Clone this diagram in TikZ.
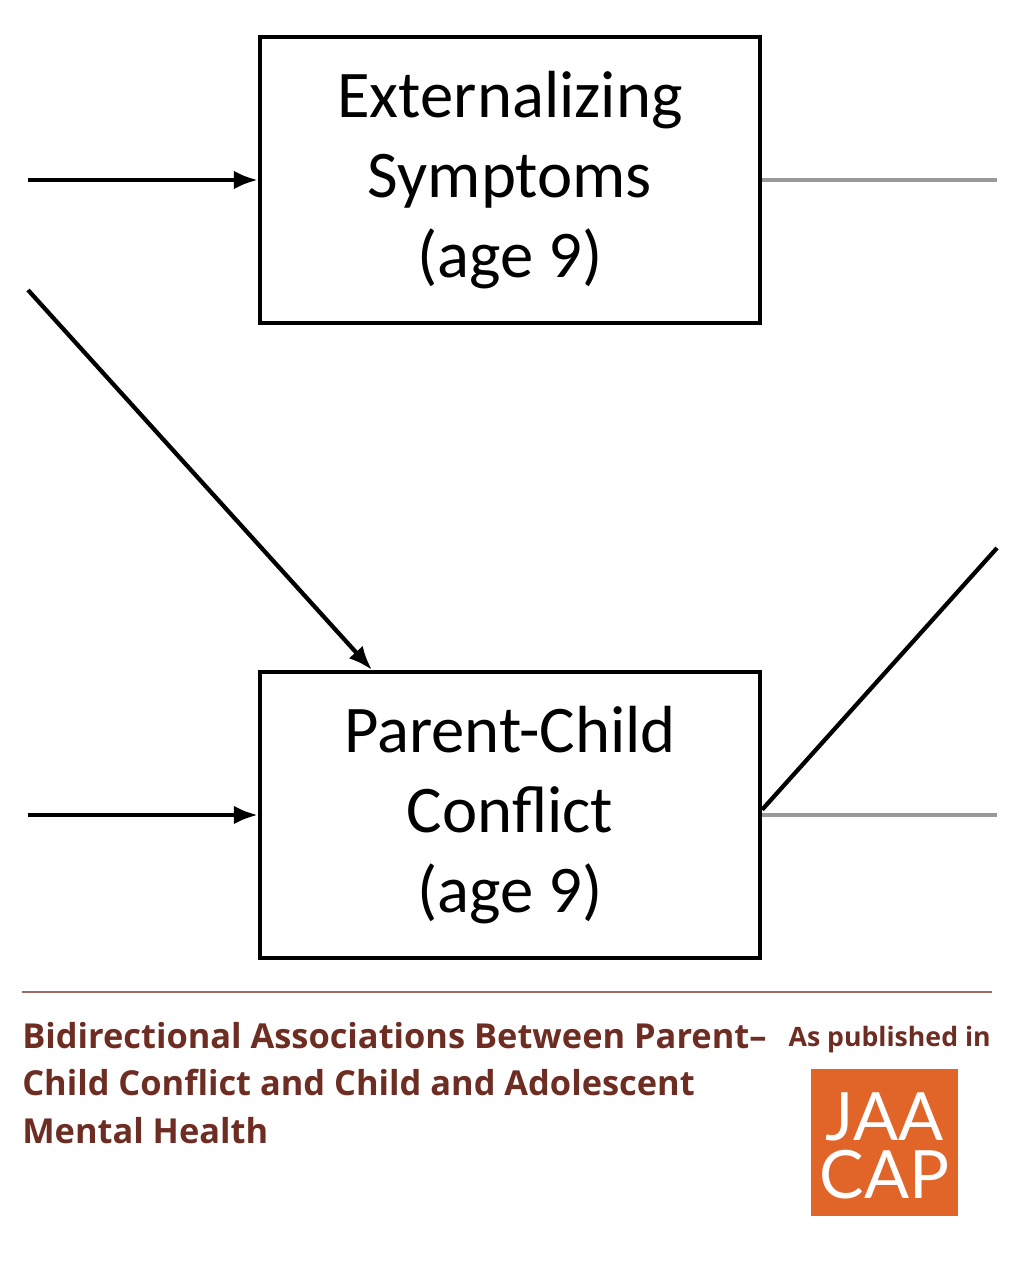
\documentclass[tikz,border=0pt]{standalone}
\usepackage{fontspec}
\setmainfont{Carlito}
\newfontfamily\capfont{Open Sans}
\newfontfamily\logofont{Lato}
\usetikzlibrary{positioning,arrows.meta}
\definecolor{capBrown}{RGB}{110,45,35}
\definecolor{logoOrange}{RGB}{225,100,40}
\tikzset{
    varbox/.style={
        draw, line width=3.2pt, minimum width=375pt, minimum height=214pt,
        align=center, font=\fontsize{50}{60}\selectfont, inner sep=0pt
    },
    ptr/.style={-{Latex[length=18pt,width=14pt]}, line width=3.2pt},
    link/.style={line width=3.2pt},
    grayLink/.style={line width=3.2pt, gray!80},
    logoText/.style={text=white, inner sep=0pt, anchor=base,
        font=\logofont\fontsize{50}{50}\selectfont}
}
\begin{document}
\begin{tikzpicture}[x=0.75pt,y=-0.75pt]
    \useasboundingbox (0,0) rectangle (1024,1280);
    \node[varbox] (ext) at (510,180) {Externalizing\\Symptoms\\(age 9)};
    \node[varbox] (pcc) at (510,815) {Parent-Child\\Conflict\\(age 9)};

    % incoming paths
    \coordinate (inA) at (28,180);
    \coordinate (inB) at (28,290);
    \coordinate (inC) at (28,815);
    \draw[ptr] (inA) -- (ext.west);
    \draw[ptr] (inB) -- (372,670);
    \draw[ptr] (inC) -- (pcc.west);

    % outgoing paths
    \coordinate (outA) at (997,180);
    \coordinate (outB) at (997,815);
    \coordinate (outC) at (997,548);
    \draw[grayLink] (ext.east) -- (outA);
    \draw[grayLink] (pcc.east) -- (outB);
    \draw[link] ([yshift=4pt]pcc.east) -- (outC);

    % caption
    \draw[capBrown!70, line width=0.8pt] (22,992) -- (992,992);
    \node[anchor=north west, align=left, text=capBrown, inner sep=0pt,
          font=\capfont\bfseries\fontsize{25.8}{35.5}\selectfont] (title) at (22,1022)
        {Bidirectional Associations Between Parent–\\Child Conflict and Child and Adolescent\\Mental Health};
    \node[anchor=north east, text=capBrown, inner sep=0pt,
          font=\capfont\bfseries\fontsize{20}{22}\selectfont] (pub) at (991,1026) {As published in};
    \node[fill=logoOrange, minimum width=110pt, minimum height=110pt, inner sep=0pt] (logo) at (884.5,1142.5) {};
    \node[logoText] (logoA) at (884.5,1140) {JAA};
    \node[logoText] (logoB) at (884.5,1198) {CAP};
\end{tikzpicture}
\end{document}
